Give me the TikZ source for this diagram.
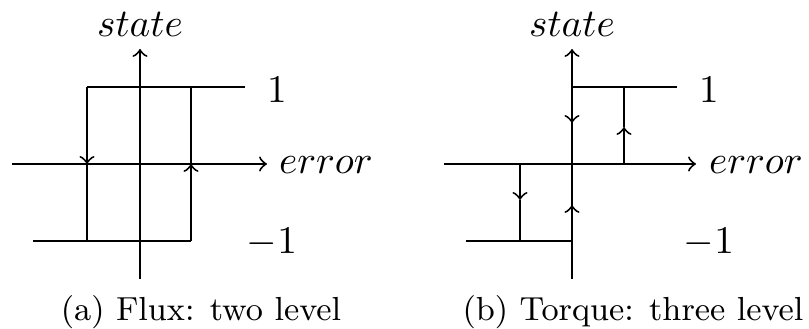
\documentclass[tikz,border=0pt]{standalone}
\usepackage{amsmath}
\usepackage{tikz}
\usetikzlibrary{positioning}
\tikzset{
  axisline/.style={->,line width=0.5pt},
  levelline/.style={line width=0.5pt},
  switcharrow/.style={->,line width=0.5pt},
  axislabel/.style={inner sep=0pt,font=\normalsize},
  caption/.style={inner sep=0pt,font=\fontsize{8.5}{10}\selectfont}
}

\begin{document}
\begin{tikzpicture}[x=0.255pt,y=0.255pt]
\useasboundingbox (0,0) rectangle (809,-329);

% (a) two level
\begin{scope}[shift={(140,-164)}]
\draw[axisline] (-128,0) -- (127,0);
\draw[axisline] (0,-115) -- (0,115);
\draw[levelline] (-53,77) -- (105,77);
\draw[levelline] (-107,-77) -- (51,-77);
\draw[switcharrow] (-53,77) -- (-53,0);
\draw[levelline] (-53,0) -- (-53,-77);
\draw[switcharrow] (51,-77) -- (51,0);
\draw[levelline] (51,0) -- (51,77);
\node[axislabel] (stateA) at (0,140) {$state$};
\node[axislabel] (errorA) at (186,-1) {$error$};
\node[axislabel] (highA) at (137,74) {$1$};
\node[axislabel] (lowA) at (132,-79) {$-1$};
\node[caption] (capA) at (61,-148) {(a) Flux: two level};
\end{scope}

% (b) three level
\begin{scope}[shift={(572,-164)}]
\draw[axisline] (-128,0) -- (124,0);
\draw[axisline] (0,-115) -- (0,115);
\draw[levelline] (0,77) -- (105,77);
\draw[levelline] (-106,-77) -- (0,-77);
\draw[switcharrow] (52,0) -- (52,37);
\draw[levelline] (52,37) -- (52,77);
\draw[switcharrow] (0,77) -- (0,41);
\draw[switcharrow] (-52,0) -- (-52,-36);
\draw[levelline] (-52,-36) -- (-52,-77);
\draw[switcharrow] (0,-77) -- (0,-41);
\node[axislabel] (stateB) at (0,140) {$state$};
\node[axislabel] (errorB) at (184,-1) {$error$};
\node[axislabel] (highB) at (137,74) {$1$};
\node[axislabel] (lowB) at (137,-79) {$-1$};
\node[caption] (capB) at (61,-148) {(b) Torque: three level};
\end{scope}
\end{tikzpicture}
\end{document}
